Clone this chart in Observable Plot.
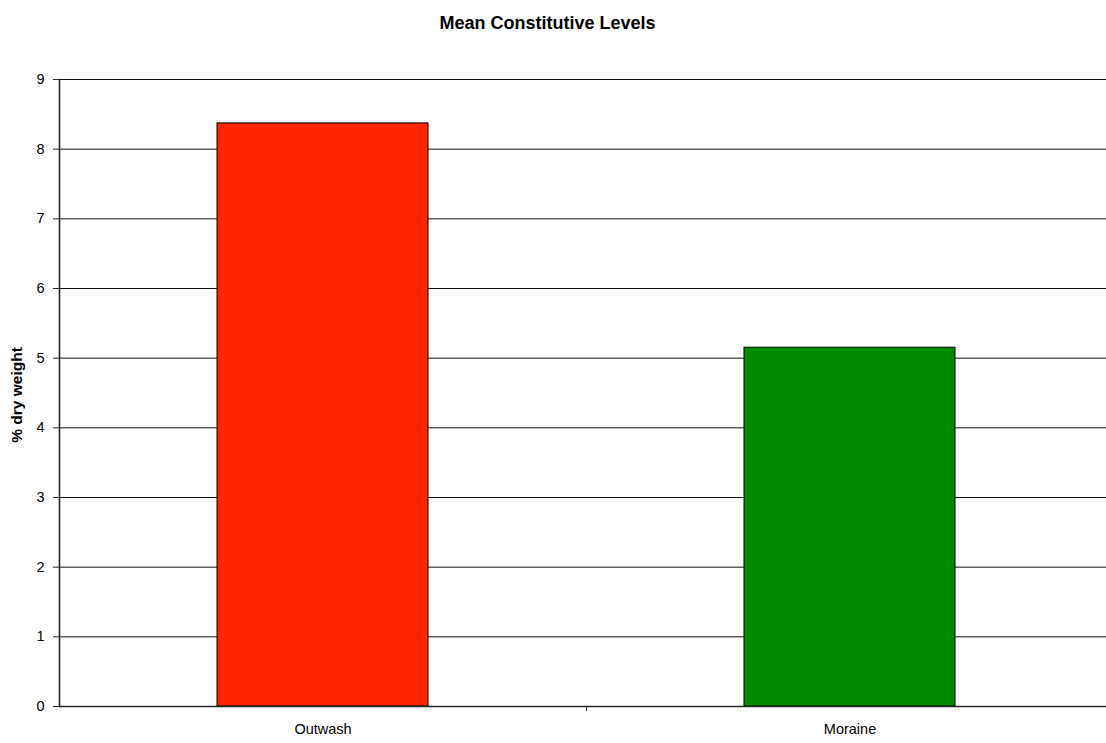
<!DOCTYPE html>
<html>
<head>
<meta charset="utf-8">
<script src="https://cdn.jsdelivr.net/npm/d3@7"></script>
<script src="https://cdn.jsdelivr.net/npm/@observablehq/plot@0.6"></script>
<style>
  html, body { margin: 0; padding: 0; background: #fff; }
  #chart svg { display: block; font-family: "Liberation Sans", Arial, sans-serif; }
</style>
</head>
<body>
<div id="chart"></div>
<script>
// Mean constitutive levels by site type (% dry weight)
const categories = ["Outwash", "Moraine"];
const values = [8.37, 5.15];
const barColors = ["#ff2600", "#008c00"];
const yTicks = [0, 1, 2, 3, 4, 5, 6, 7, 8, 9];
const title = "Mean Constitutive Levels";
const yLabel = "% dry weight";

const data = categories.map((c, i) => ({category: c, value: values[i]}));
const axisColor = "#1f2b1f";

const chart = Plot.plot({
  width: 1106,
  height: 743,
  marginTop: 79,
  marginBottom: 37,
  marginLeft: 59,
  marginRight: 0,
  style: {fontFamily: "'Liberation Sans', Arial, sans-serif", background: "#fff"},
  x: {domain: categories, range: [59, 1113], paddingInner: 0.6, paddingOuter: 0.3, axis: null},
  y: {domain: [0, 9], ticks: yTicks, axis: null},
  color: {domain: categories, range: barColors},
  marks: [
    Plot.gridY(yTicks.slice(1), {stroke: "#111", strokeOpacity: 1, strokeWidth: 1}),
    Plot.barY(data, {x: "category", y: "value", fill: "category", stroke: "#000", strokeWidth: 1}),
    Plot.ruleY([0], {stroke: axisColor, strokeWidth: 1.6}),
    Plot.frame({anchor: "left", stroke: axisColor, strokeWidth: 1.6}),
    Plot.axisY(yTicks, {
      tickSize: 6, tickPadding: 9, stroke: axisColor, fontSize: 14.5, fill: "#000",
      label: null, tickFormat: d => String(d)
    }),
    Plot.axisX({tickSize: 0, tickPadding: 17, fontSize: 14.5, fill: "#000", label: null}),
    // divider tick between the two categories
    Plot.axisX({ticks: [categories[1]], tickSize: 5, text: null, dx: -263.5, stroke: axisColor, label: null}),
    Plot.text([yLabel], {
      frameAnchor: "left", textAnchor: "middle", dx: -42.5, dy: 2, rotate: -90,
      fontSize: 15.5, fontWeight: "bold", fill: "#000"
    }),
    Plot.text([title], {
      frameAnchor: "top", dx: -35.5, dy: -63,
      fontSize: 18, fontWeight: "bold", fill: "#000"
    })
  ]
});

document.getElementById("chart").appendChild(chart);
</script>
</body>
</html>
